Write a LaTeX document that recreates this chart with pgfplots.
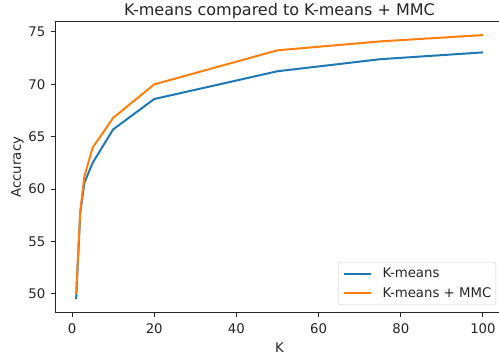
\documentclass[border=0pt]{standalone}
\usepackage{pgfplots}
\pgfplotsset{compat=1.18}
\usepackage{fontspec}
\setmainfont{DejaVu Sans}
\definecolor{c0}{HTML}{1F77B4}
\definecolor{c1}{HTML}{FF7F0E}
\begin{document}
\begin{tikzpicture}
\useasboundingbox (-55.8pt,-45.6pt) rectangle (443.2pt,312.4pt);
\begin{axis}[
  at={(0pt,0pt)}, anchor=south west,
  scale only axis,
  width=447.5pt, height=290.5pt,
  xmin=-3.95, xmax=104.95,
  ymin=48.24, ymax=75.96,
  xtick={0,20,40,60,80,100},
  ytick={50,55,60,65,70,75},
  tick align=outside,
  tick pos=left,
  major tick length=4.67pt,
  tick style={black!85, line width=1pt},
  axis line style={black!85, line width=1pt},
  /pgf/number format/assume math mode=true,
  ticklabel style={font=\fontsize{13.3}{16}\selectfont, text=black!85},
  xticklabel style={anchor=base, yshift=-16.9pt},
  yticklabel style={anchor=east, inner xsep=0pt, xshift=-5.6pt},
  xlabel={K}, ylabel={Accuracy},
  label style={font=\fontsize{13.3}{16}\selectfont, text=black!85},
  xlabel style={at={(axis description cs:0.5,0)}, anchor=base, yshift=-40pt},
  ylabel style={at={(axis description cs:-0.0782,0.5)}, anchor=base, rotate=0},
  every axis title shift=0pt,
  title={K-means compared to K-means + MMC},
  title style={at={(axis description cs:0.5,1)}, anchor=base, yshift=6pt, font=\fontsize{16}{19}\selectfont, text=black!85},
  legend style={at={(0.9837,0.0255)}, anchor=south east, draw=black!20, rounded corners=2.5pt, font=\fontsize{13.3}{16}\selectfont, text=black!85, inner xsep=4.5pt, inner ysep=4pt, nodes={inner xsep=0pt, inner ysep=2pt}, column sep=11pt, row sep=4pt, fill=white},
  legend cell align=left,
  legend image code/.code={\draw[#1] (0pt,0pt) -- (27pt,0pt);},
]
\addplot[c0, line width=2pt, forget plot] coordinates {
(1,49.5) (2,57.7) (3,60.6) (5,62.5) (10,65.7) (20,68.6) (50,71.25) (75,72.4) (100,73.05)
};
\addplot[c1, line width=2pt, forget plot] coordinates {
(1,50.0) (2,57.9) (3,61.2) (5,63.95) (10,66.8) (20,70.0) (50,73.25) (75,74.1) (100,74.7)
};
\addlegendimage{color=c0, line width=2pt}
\addlegendentry{K-means}
\addlegendimage{color=c1, line width=2pt}
\addlegendentry{K-means + MMC}
\end{axis}
\end{tikzpicture}
\end{document}
